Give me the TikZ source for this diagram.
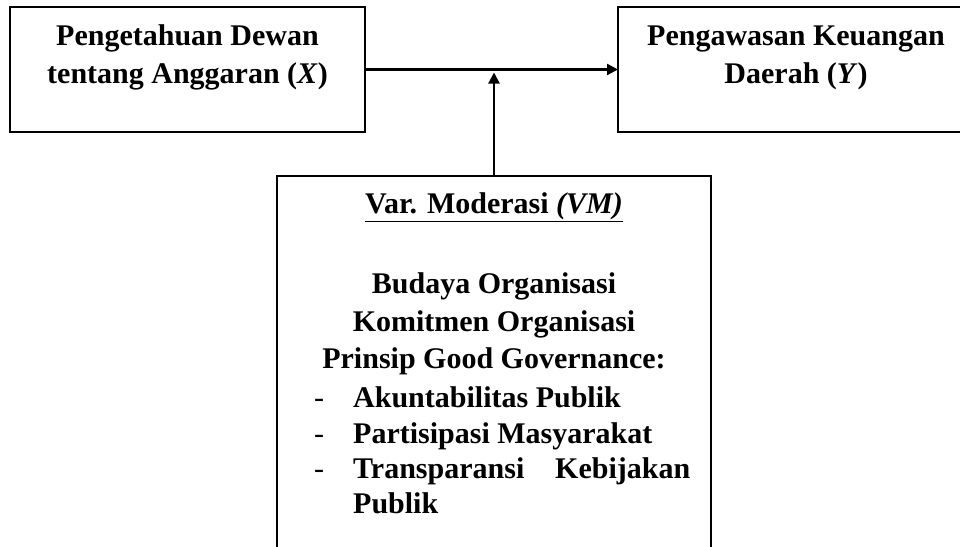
\documentclass[tikz,border=0pt]{standalone}
\usepackage{fontspec}
\setmainfont{Liberation Serif}
\usetikzlibrary{arrows.meta}
\begin{document}
\begin{tikzpicture}[x=1pt,y=-1pt,
  box/.style={draw, line width=1.8pt, inner sep=0pt, outer sep=0pt},
  txt/.style={anchor=base, inner sep=0pt, font=\fontsize{30}{36}\selectfont\bfseries},
  dashmark/.style={anchor=base, inner sep=0pt, font=\fontsize{30}{36}\selectfont},
  conn/.style={line width=2.2pt, -{Triangle[length=11pt,width=11pt]}}]
\useasboundingbox (0,0) rectangle (960,546);
\clip (0,0) rectangle (960,546);
% boxes
\node[box, minimum width=355pt, minimum height=125pt] (X) at (187.5,69.5) {};
\node[box, minimum width=357pt, minimum height=125pt] (Y) at (796.5,69.5) {};
\node[box, minimum width=434pt, minimum height=440pt, anchor=north] (VM) at (494,176) {};
% texts of X
\node[txt] (x1) at (187.5,45) {Pengetahuan Dewan};
\node[txt] (x2) at (187.5,83) {tentang Anggaran (\textit{X})};
% texts of Y
\node[txt] (y1) at (796,45) {Pengawasan Keuangan};
\node[txt] (y2) at (796,83) {Daerah (\textit{Y})};
% texts of VM
\node[txt] (v0) at (494,213) {\underline{Var. Moderasi \textit{(VM)}}};
\node[txt] (v1) at (494,293) {Budaya Organisasi};
\node[txt] (v2) at (494,331) {Komitmen Organisasi};
\node[txt] (v3) at (494,368) {Prinsip Good Governance:};
\node[dashmark] (d1) at (319,407) {-};
\node[dashmark] (d2) at (319,443) {-};
\node[dashmark] (d3) at (319,478) {-};
\node[txt, anchor=base west] (l1) at (353,407) {Akuntabilitas Publik};
\node[txt, anchor=base west] (l2) at (353,443) {Partisipasi Masyarakat};
\node[txt, anchor=base west] (l3) at (353,478) {\makebox[337pt][s]{Transparansi\hfill Kebijakan}};
\node[txt, anchor=base west] (l4) at (353,513) {Publik};
% connectors
\coordinate (J) at (VM.north |- X.east);
\draw[conn] (X.east) -- (Y.west);
\draw[conn, shorten >=3pt] (VM.north) -- (J);
\end{tikzpicture}
\end{document}
